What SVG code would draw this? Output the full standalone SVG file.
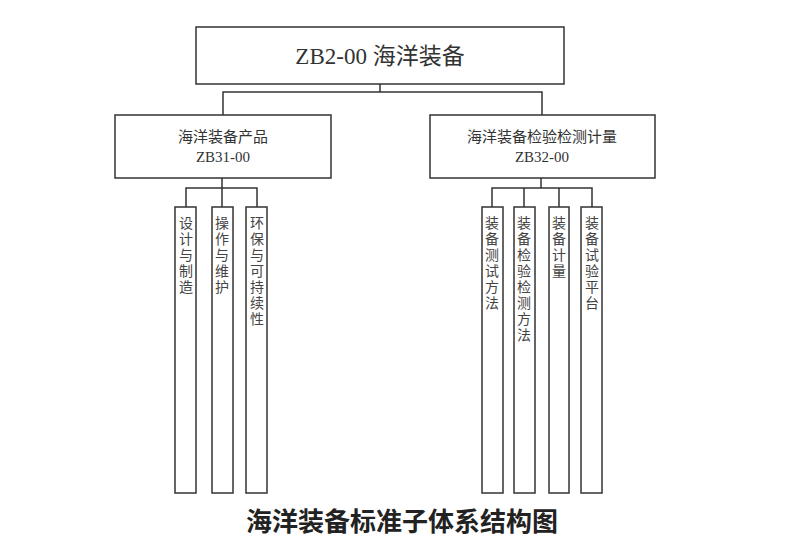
<svg xmlns="http://www.w3.org/2000/svg" width="786" height="560" viewBox="0 0 786 560">
<style>
.b{fill:#fff;stroke:#333;stroke-width:1.5}
.c{fill:none;stroke:#333;stroke-width:1.5}
.t{font-family:"Liberation Serif","Noto Sans CJK SC",serif;fill:#333;text-anchor:middle}
.v{font-family:"Noto Sans CJK SC",sans-serif;font-size:14px;fill:#444;text-anchor:middle}
</style>
<rect width="786" height="560" fill="#fff"/>
<g id="connectors">
<path class="c" d="M380 84V92M223 115V92H542V115"/>
<path class="c" d="M222 178V188M186 207V188H257V207M222 188V207"/>
<path class="c" d="M541 178V188M492 207V188H592V207M524 188V207M559 188V207"/>
</g>
<g id="root"><rect class="b" x="196" y="27" width="368" height="57"/><text class="t" x="380" y="64" font-size="23">ZB2-00 海洋装备</text></g>
<g id="n1"><rect class="b" x="115" y="115" width="216" height="63"/><text class="t" x="223" y="142" font-size="15">海洋装备产品</text><text class="t" x="223" y="162" font-size="15">ZB31-00</text></g>
<g id="n2"><rect class="b" x="430" y="115" width="225" height="63"/><text class="t" x="542" y="142" font-size="15">海洋装备检验检测计量</text><text class="t" x="542" y="162" font-size="15">ZB32-00</text></g>
<g id="l1"><rect class="b" x="175" y="207" width="21" height="286"/><text class="v" x="186" y="228"><tspan x="186">设</tspan><tspan x="186" dy="16">计</tspan><tspan x="186" dy="16">与</tspan><tspan x="186" dy="16">制</tspan><tspan x="186" dy="16">造</tspan></text></g>
<g id="l2"><rect class="b" x="212" y="207" width="21" height="286"/><text class="v" x="222" y="228"><tspan x="222">操</tspan><tspan x="222" dy="16">作</tspan><tspan x="222" dy="16">与</tspan><tspan x="222" dy="16">维</tspan><tspan x="222" dy="16">护</tspan></text></g>
<g id="l3"><rect class="b" x="246" y="207" width="21" height="286"/><text class="v" x="257" y="228"><tspan x="257">环</tspan><tspan x="257" dy="16">保</tspan><tspan x="257" dy="16">与</tspan><tspan x="257" dy="16">可</tspan><tspan x="257" dy="16">持</tspan><tspan x="257" dy="16">续</tspan><tspan x="257" dy="16">性</tspan></text></g>
<g id="r1"><rect class="b" x="482" y="207" width="21" height="286"/><text class="v" x="492" y="228"><tspan x="492">装</tspan><tspan x="492" dy="16">备</tspan><tspan x="492" dy="16">测</tspan><tspan x="492" dy="16">试</tspan><tspan x="492" dy="16">方</tspan><tspan x="492" dy="16">法</tspan></text></g>
<g id="r2"><rect class="b" x="514" y="207" width="21" height="286"/><text class="v" x="524" y="228"><tspan x="524">装</tspan><tspan x="524" dy="16">备</tspan><tspan x="524" dy="16">检</tspan><tspan x="524" dy="16">验</tspan><tspan x="524" dy="16">检</tspan><tspan x="524" dy="16">测</tspan><tspan x="524" dy="16">方</tspan><tspan x="524" dy="16">法</tspan></text></g>
<g id="r3"><rect class="b" x="549" y="207" width="20" height="286"/><text class="v" x="559" y="228"><tspan x="559">装</tspan><tspan x="559" dy="16">备</tspan><tspan x="559" dy="16">计</tspan><tspan x="559" dy="16">量</tspan></text></g>
<g id="r4"><rect class="b" x="581" y="207" width="21" height="286"/><text class="v" x="592" y="228"><tspan x="592">装</tspan><tspan x="592" dy="16">备</tspan><tspan x="592" dy="16">试</tspan><tspan x="592" dy="16">验</tspan><tspan x="592" dy="16">平</tspan><tspan x="592" dy="16">台</tspan></text></g>
<text x="402" y="531" font-family="Noto Sans CJK SC,sans-serif" font-size="26" font-weight="bold" fill="#222" text-anchor="middle">海洋装备标准子体系结构图</text>
</svg>
